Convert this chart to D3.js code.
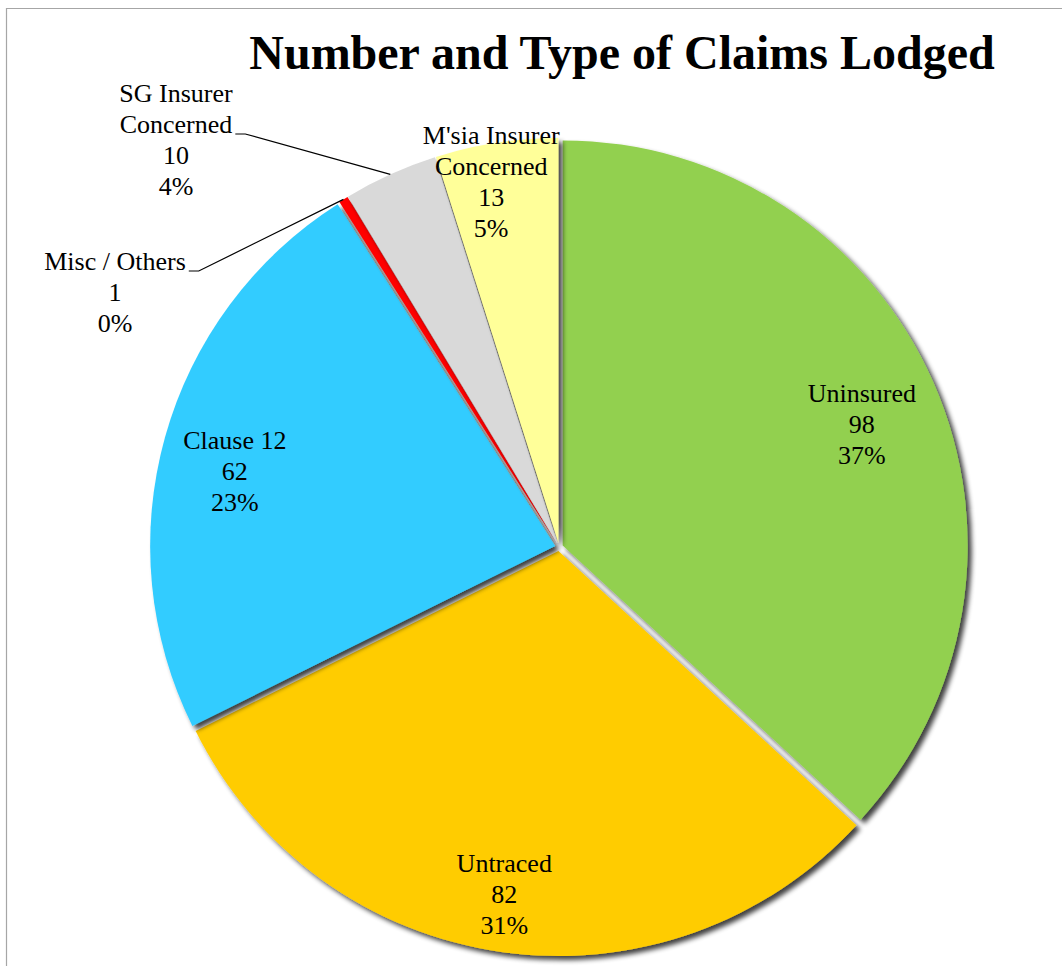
<!doctype html>
<html lang="en">
<head>
    <meta charset="utf-8"/>
    <title>Number and Type of Claims Lodged</title>
    <script src="https://d3js.org/d3.v7.min.js"></script>
    <style>
        body {
            margin: 0;
            padding: 0;
            background: #fff;
        }
        text {
            font-family: "Liberation Serif", "Times New Roman", serif;
            fill: #000;
        }
    </style>
</head>
<body>
<script>
    // data
    const categories = ["Uninsured", "Untraced", "Clause 12", "Misc / Others", "SG Insurer Concerned", "M'sia Insurer Concerned"];
    const claims = [98, 82, 62, 1, 10, 13];
    // how the category names wrap in the labels
    const nameLines = [["Uninsured"], ["Untraced"], ["Clause 12"], ["Misc / Others"], ["SG Insurer", "Concerned"], ["M'sia Insurer", "Concerned"]];
    const colors = ["#92d050", "#ffcc00", "#33ccff", "#ff0000", "#d9d9d9", "#ffff99"];

    const width = 1062, height = 966;
    const cx = 559, cy = 547, radius = 405;
    const explode = 4;      // small gap between the slices
    const lineH = 31;

    // label placement: inside ones by radius fraction + angle nudge (deg), outside ones by block centre
    const labelAt = [
        {k: 0.807, da: 1.6},
        {k: 0.867, da: 0.85},
        {k: 0.822, da: -2.4},
        {outside: true, x: 115, y: 292},
        {outside: true, x: 176, y: 139.5},
        {k: 0.919, da: -1.7}
    ];

    const total = d3.sum(claims);
    const pct = d3.format(".0%");

    const svg = d3.select("body")
        .append("svg")
        .attr("width", width)
        .attr("height", height);

    // shadow like the office one
    const defs = svg.append("defs");
    const f = defs.append("filter")
        .attr("id", "shadow")
        .attr("x", "-10%").attr("y", "-10%")
        .attr("width", "130%").attr("height", "130%");
    f.append("feGaussianBlur").attr("in", "SourceAlpha").attr("stdDeviation", 2.5).attr("result", "blur");
    f.append("feOffset").attr("in", "blur").attr("dx", 3.5).attr("dy", 3.5).attr("result", "off");
    f.append("feComponentTransfer").attr("in", "off").attr("result", "shade")
        .append("feFuncA").attr("type", "linear").attr("slope", 0.75);
    const merge = f.append("feMerge");
    merge.append("feMergeNode").attr("in", "shade");
    merge.append("feMergeNode").attr("in", "SourceGraphic");

    // chart frame
    svg.append("path")
        .attr("d", `M6.5,${height} V8.5 H${width}`)
        .attr("fill", "none")
        .attr("stroke", "#a6a6a6")
        .attr("stroke-width", 1.2);

    // title
    svg.append("text")
        .attr("x", 622)
        .attr("y", 69)
        .attr("text-anchor", "middle")
        .style("font-size", "48px")
        .style("font-weight", "bold")
        .text("Number and Type of Claims Lodged");

    const pie = d3.pie().sort(null).value(d => d);
    const arcs = pie(claims);
    const arc = d3.arc().innerRadius(0).outerRadius(radius);

    const mid = d => (d.startAngle + d.endAngle) / 2;
    const shift = d => [explode * Math.sin(mid(d)), -explode * Math.cos(mid(d))];

    const g = svg.append("g").attr("transform", `translate(${cx},${cy})`);

    g.selectAll("path.slice")
        .data(arcs)
        .enter()
        .append("path")
        .attr("class", "slice")
        .attr("d", arc)
        .attr("transform", d => `translate(${shift(d)[0]},${shift(d)[1]})`)
        .attr("fill", (d, i) => colors[i])
        .attr("filter", "url(#shadow)");

    // labels
    arcs.forEach(function (d, i) {
        const lines = nameLines[i].concat([String(claims[i]), pct(claims[i] / total)]);
        const L = labelAt[i];
        let x, y;
        if (L.outside) {
            x = L.x;
            y = L.y;
        } else {
            const a = mid(d) + L.da * Math.PI / 180;
            x = cx + L.k * radius * Math.sin(a);
            y = cy - L.k * radius * Math.cos(a);
        }
        const n = lines.length;
        const t = svg.append("text")
            .attr("text-anchor", "middle")
            .style("font-size", "26px");
        const spans = lines.map(function (s, j) {
            return t.append("tspan")
                .attr("x", x)
                .attr("y", y + 9 + (j - (n - 1) / 2) * lineH)
                .text(s);
        });

        if (L.outside) {
            // leader line from the last name line to the slice edge
            const j = nameLines[i].length - 1;
            const w = spans[j].node().getComputedTextLength();
            const y0 = y + 9 + (j - (n - 1) / 2) * lineH + 1;
            const x0 = x + w / 2 + 3;
            const s = shift(d);
            const ex = cx + s[0] + radius * Math.sin(mid(d));
            const ey = cy + s[1] - radius * Math.cos(mid(d));
            svg.append("polyline")
                .attr("points", [[x0, y0], [x0 + 10, y0], [ex, ey]].map(p => p.join(",")).join(" "))
                .attr("fill", "none")
                .attr("stroke", "#000")
                .attr("stroke-width", 1.2);
        }
    });
</script>
</body>
</html>
